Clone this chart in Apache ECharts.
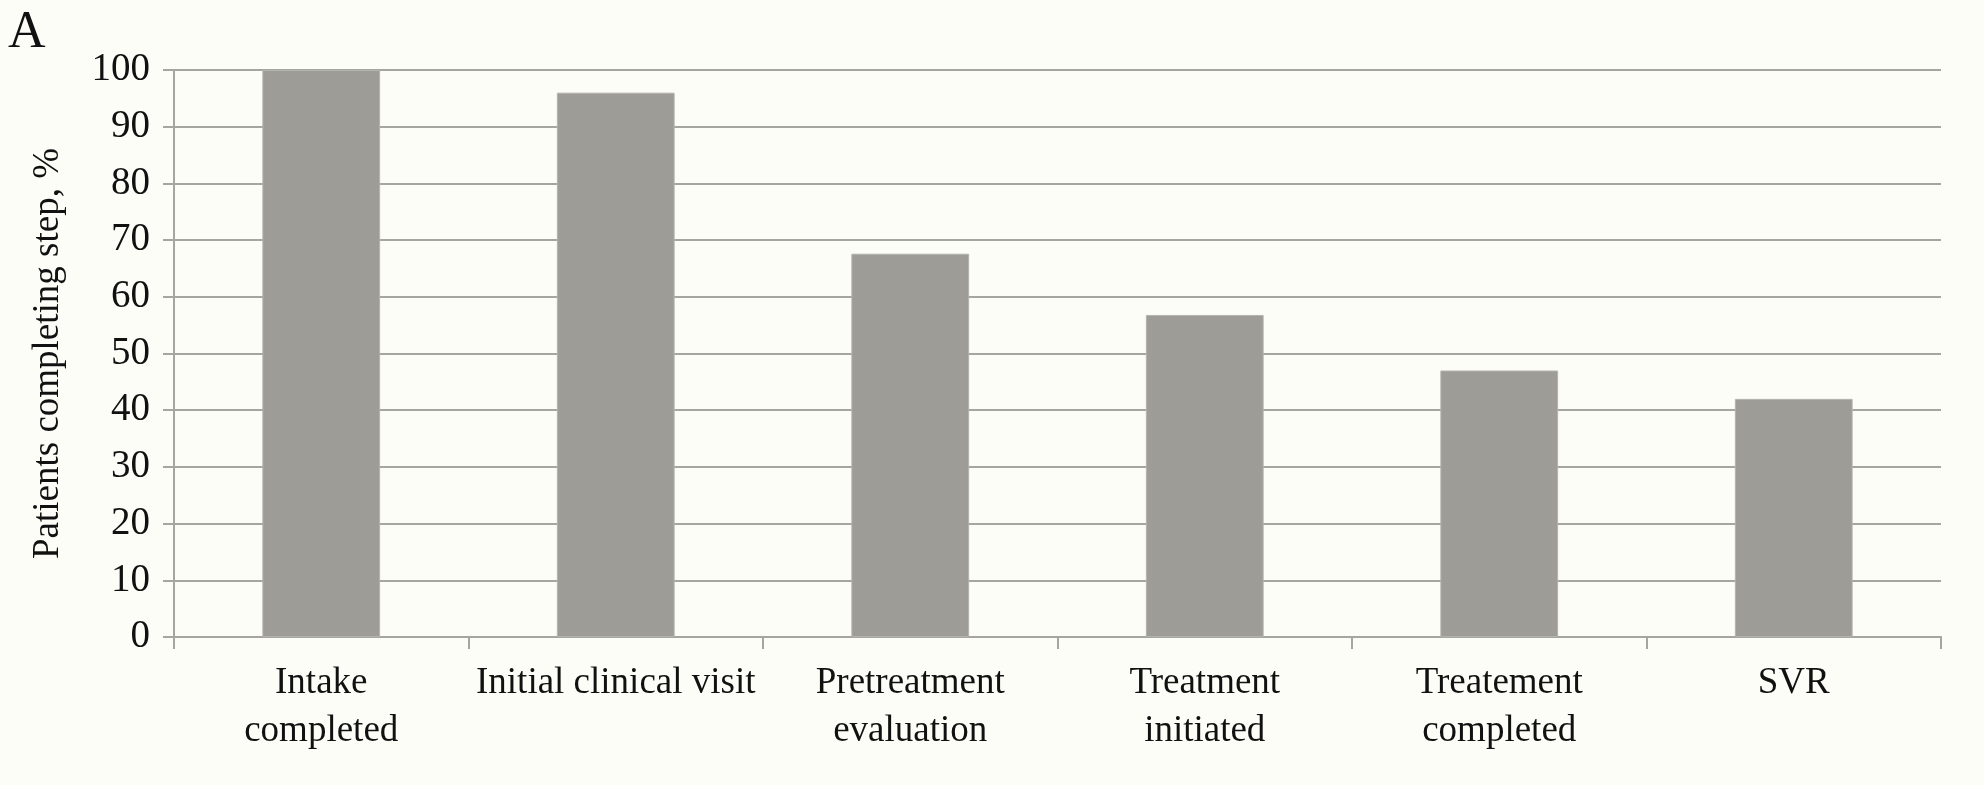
<!DOCTYPE html>
<html>
<head>
<meta charset="utf-8">
<script src="https://cdn.jsdelivr.net/npm/echarts@6/dist/echarts.min.js"></script>
<style>
  html, body { margin: 0; padding: 0; background: #fdfdf8; }
  #chart { width: 1984px; height: 785px; }
</style>
</head>
<body>
<div id="chart"></div>
<script>
// Care cascade steps and share of patients completing each one
const steps = [
  'Intake\ncompleted',
  'Initial clinical visit',
  'Pretreatment\nevaluation',
  'Treatment\ninitiated',
  'Treatement\ncompleted',
  'SVR'
];
const completingPct = [100, 96, 67.6, 56.8, 47, 42];
const yTicks = { min: 0, max: 100, interval: 10 };

const serif = '"Liberation Serif", "DejaVu Serif", serif';
const gridGray = '#a6a6a1';

const chart = echarts.init(document.getElementById('chart'));
chart.setOption({
  backgroundColor: '#fdfdf8',
  animation: false,
  title: {
    text: 'A',
    left: 3,
    top: 2,
    textStyle: { fontFamily: serif, fontSize: 52, fontWeight: 'normal', color: '#111' }
  },
  grid: { left: 174, right: 43, top: 70, bottom: 148 },
  xAxis: {
    type: 'category',
    data: steps,
    axisLine: { show: true, lineStyle: { color: gridGray, width: 2 } },
    axisTick: { show: true, length: 12, lineStyle: { color: gridGray, width: 2 } },
    axisLabel: {
      fontFamily: serif, fontSize: 37, color: '#111',
      lineHeight: 48, margin: 22, interval: 0
    }
  },
  yAxis: {
    type: 'value',
    min: yTicks.min,
    max: yTicks.max,
    interval: yTicks.interval,
    name: 'Patients completing step, %',
    nameLocation: 'middle',
    nameGap: 107,
    nameRotate: 90,
    nameTextStyle: { fontFamily: serif, fontSize: 37, color: '#111' },
    axisLine: { show: true, lineStyle: { color: gridGray, width: 2 } },
    axisTick: { show: true, length: 11, lineStyle: { color: gridGray, width: 2 } },
    axisLabel: { fontFamily: serif, fontSize: 39, color: '#111', margin: 24 },
    splitLine: { show: true, lineStyle: { color: gridGray, width: 2 } }
  },
  series: [{
    type: 'bar',
    data: completingPct,
    barWidth: '40%',
    itemStyle: { color: '#9d9c97', borderColor: '#b4b3ae', borderWidth: 1 }
  }]
});
</script>
</body>
</html>
